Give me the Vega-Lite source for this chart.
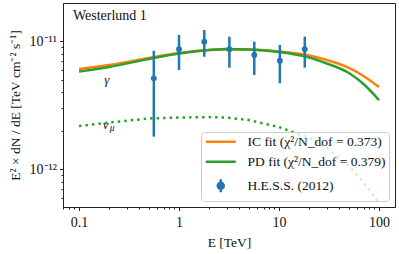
{
  "$schema": "https://vega.github.io/schema/vega-lite/v6.json",
  "width": 332,
  "height": 204,
  "autosize": {"type": "none"},
  "padding": {"left": 63, "top": 3, "right": 4, "bottom": 47},
  "config": {
    "font": "Liberation Serif",
    "view": {"stroke": "#222222", "strokeWidth": 1},
    "axis": {"grid": false, "domainColor": "#222222", "tickColor": "#222222", "labelColor": "#111111", "titleColor": "#111111", "labelFont": "Liberation Serif", "titleFont": "Liberation Serif", "labelFontSize": 14, "titleFontSize": 13.5, "titleFontWeight": "normal"},
    "legend": {"orient": "bottom-right", "offset": 6, "fillColor": "rgba(255,255,255,0.8)", "strokeColor": "#cccccc", "cornerRadius": 3, "padding": 3, "labelFont": "Liberation Serif", "labelFontSize": 13.5, "labelColor": "#111111", "symbolSize": 100, "symbolStrokeWidth": 2.5, "labelOffset": 30, "rowPadding": 5}
  },
  "datasets": {
    "curves": [
      {"E": 0.1, "F": 6.09e-12, "series": "IC fit (χ²/N_dof = 0.373)"},
      {"E": 0.2, "F": 6.54e-12, "series": "IC fit (χ²/N_dof = 0.373)"},
      {"E": 0.5, "F": 7.43e-12, "series": "IC fit (χ²/N_dof = 0.373)"},
      {"E": 1, "F": 8.13e-12, "series": "IC fit (χ²/N_dof = 0.373)"},
      {"E": 2, "F": 8.58e-12, "series": "IC fit (χ²/N_dof = 0.373)"},
      {"E": 3, "F": 8.66e-12, "series": "IC fit (χ²/N_dof = 0.373)"},
      {"E": 5, "F": 8.66e-12, "series": "IC fit (χ²/N_dof = 0.373)"},
      {"E": 10, "F": 8.35e-12, "series": "IC fit (χ²/N_dof = 0.373)"},
      {"E": 20, "F": 7.77e-12, "series": "IC fit (χ²/N_dof = 0.373)"},
      {"E": 30, "F": 7.16e-12, "series": "IC fit (χ²/N_dof = 0.373)"},
      {"E": 50, "F": 6.21e-12, "series": "IC fit (χ²/N_dof = 0.373)"},
      {"E": 70, "F": 5.37e-12, "series": "IC fit (χ²/N_dof = 0.373)"},
      {"E": 100, "F": 4.40e-12, "series": "IC fit (χ²/N_dof = 0.373)"},
      {"E": 0.1, "F": 5.82e-12, "series": "PD fit (χ²/N_dof = 0.379)"},
      {"E": 0.2, "F": 6.32e-12, "series": "PD fit (χ²/N_dof = 0.379)"},
      {"E": 0.5, "F": 7.29e-12, "series": "PD fit (χ²/N_dof = 0.379)"},
      {"E": 1, "F": 8.05e-12, "series": "PD fit (χ²/N_dof = 0.379)"},
      {"E": 2, "F": 8.58e-12, "series": "PD fit (χ²/N_dof = 0.379)"},
      {"E": 3, "F": 8.74e-12, "series": "PD fit (χ²/N_dof = 0.379)"},
      {"E": 5, "F": 8.66e-12, "series": "PD fit (χ²/N_dof = 0.379)"},
      {"E": 10, "F": 8.28e-12, "series": "PD fit (χ²/N_dof = 0.379)"},
      {"E": 20, "F": 7.50e-12, "series": "PD fit (χ²/N_dof = 0.379)"},
      {"E": 30, "F": 6.73e-12, "series": "PD fit (χ²/N_dof = 0.379)"},
      {"E": 50, "F": 5.67e-12, "series": "PD fit (χ²/N_dof = 0.379)"},
      {"E": 70, "F": 4.65e-12, "series": "PD fit (χ²/N_dof = 0.379)"},
      {"E": 100, "F": 3.48e-12, "series": "PD fit (χ²/N_dof = 0.379)"}
    ],
    "nu": [
      {"E": 0.1, "F": 2.18e-12},
      {"E": 0.2, "F": 2.32e-12},
      {"E": 0.5, "F": 2.50e-12},
      {"E": 1, "F": 2.54e-12},
      {"E": 2, "F": 2.56e-12},
      {"E": 3, "F": 2.54e-12},
      {"E": 5, "F": 2.43e-12},
      {"E": 10, "F": 2.14e-12},
      {"E": 20, "F": 1.76e-12},
      {"E": 30, "F": 1.47e-12},
      {"E": 50, "F": 1.06e-12},
      {"E": 70, "F": 7.96e-13},
      {"E": 100, "F": 5.45e-13}
    ],
    "hess": [
      {"E": 0.56, "F": 5.15e-12, "lo": 1.80e-12, "hi": 8.47e-12, "series": "H.E.S.S. (2012)"},
      {"E": 1.0, "F": 8.69e-12, "lo": 5.98e-12, "hi": 1.125e-11, "series": "H.E.S.S. (2012)"},
      {"E": 1.79, "F": 9.96e-12, "lo": 7.60e-12, "hi": 1.23e-11, "series": "H.E.S.S. (2012)"},
      {"E": 3.19, "F": 8.69e-12, "lo": 6.24e-12, "hi": 1.09e-11, "series": "H.E.S.S. (2012)"},
      {"E": 5.66, "F": 7.84e-12, "lo": 5.47e-12, "hi": 9.96e-12, "series": "H.E.S.S. (2012)"},
      {"E": 10.2, "F": 7.08e-12, "lo": 4.71e-12, "hi": 9.39e-12, "series": "H.E.S.S. (2012)"},
      {"E": 18.1, "F": 8.69e-12, "lo": 6.24e-12, "hi": 1.09e-11, "series": "H.E.S.S. (2012)"}
    ],
    "title": [{"E": 0.087, "F": 1.58e-11, "text": "Westerlund 1"}],
    "greek": [
      {"E": 0.19, "F": 5.0e-12, "text": "γ"},
      {"E": 0.185, "F": 2.22e-12, "text": "ν"}
    ],
    "sub": [{"E": 0.215, "F": 2.22e-12, "text": "μ"}]
  },
  "resolve": {"axis": {"x": "independent", "y": "independent"}},
  "layer": [
    {
      "data": {"name": "nu"},
      "mark": {"type": "line", "color": "#2ca02c", "strokeWidth": 2.5, "strokeDash": [2.5, 4], "clip": true},
      "encoding": {
        "x": {"field": "E", "type": "quantitative", "scale": {"type": "log", "domain": [0.0692, 144.5], "nice": false},
          "axis": {"orient": "bottom", "values": [0.07, 0.08, 0.09, 0.2, 0.3, 0.4, 0.5, 0.6, 0.7, 0.8, 0.9, 2, 3, 4, 5, 6, 7, 8, 9, 20, 30, 40, 50, 60, 70, 80, 90], "labels": false, "tickSize": 2, "domain": false, "title": null}},
        "y": {"field": "F", "type": "quantitative", "scale": {"type": "log", "domain": [5.07e-13, 2.0e-11], "nice": false},
          "axis": {"orient": "left", "values": [6e-13, 7e-13, 8e-13, 9e-13, 2e-12, 3e-12, 4e-12, 5e-12, 6e-12, 7e-12, 8e-12, 9e-12], "labels": false, "tickSize": 2, "domain": false, "title": null}}
      }
    },
    {
      "data": {"name": "curves"},
      "mark": {"type": "line", "strokeWidth": 2.5, "interpolate": "monotone", "clip": true},
      "encoding": {
        "x": {"field": "E", "type": "quantitative", "scale": {"type": "log", "domain": [0.0692, 144.5], "nice": false},
          "axis": {"orient": "bottom", "values": [0.1, 1, 10, 100], "format": "~g", "tickSize": 3.5, "labelPadding": 5, "title": "E [TeV]", "titlePadding": 6}},
        "y": {"field": "F", "type": "quantitative", "scale": {"type": "log", "domain": [5.07e-13, 2.0e-11], "nice": false},
          "axis": {"orient": "left", "values": [1e-12, 1e-11], "labelExpr": "datum.value > 5e-12 ? '10⁻¹¹' : '10⁻¹²'", "tickSize": 3.5, "labelPadding": 3, "title": "E² × dN / dE [TeV cm⁻² s⁻¹]", "titlePadding": 7}},
        "color": {"field": "series", "type": "nominal",
          "scale": {"domain": ["IC fit (χ²/N_dof = 0.373)", "PD fit (χ²/N_dof = 0.379)", "H.E.S.S. (2012)"], "range": ["#ff7f0e", "#2ca02c", "#1f77b4"]},
          "legend": {"title": null, "encode": {"symbols": {"update": {
            "shape": {"signal": "datum.value == 'H.E.S.S. (2012)' ? 'M2,-1.3V1.3M1.4,0A0.6,0.6 0 1,0 2.6,0A0.6,0.6 0 1,0 1.4,0' : 'M-1,0H5'"},
            "stroke": {"scale": "color", "field": "value"}, "fill": {"scale": "color", "field": "value"}, "strokeWidth": {"value": 2.5}, "opacity": {"value": 1}}}}}}
      }
    },
    {
      "data": {"name": "hess"},
      "mark": {"type": "rule", "strokeWidth": 2.5},
      "encoding": {
        "x": {"field": "E", "type": "quantitative", "scale": {"type": "log", "domain": [0.0692, 144.5], "nice": false}, "axis": null},
        "y": {"field": "lo", "type": "quantitative", "scale": {"type": "log", "domain": [5.07e-13, 2.0e-11], "nice": false}, "axis": null},
        "y2": {"field": "hi"},
        "color": {"field": "series", "type": "nominal"}
      }
    },
    {
      "data": {"name": "hess"},
      "mark": {"type": "circle", "size": 34, "opacity": 1},
      "encoding": {
        "x": {"field": "E", "type": "quantitative", "scale": {"type": "log", "domain": [0.0692, 144.5], "nice": false}, "axis": null},
        "y": {"field": "F", "type": "quantitative", "scale": {"type": "log", "domain": [5.07e-13, 2.0e-11], "nice": false}, "axis": null},
        "color": {"field": "series", "type": "nominal"}
      }
    },
    {
      "data": {"name": "title"},
      "mark": {"type": "text", "align": "left", "baseline": "middle", "fontSize": 14, "color": "#111111"},
      "encoding": {
        "x": {"field": "E", "type": "quantitative", "scale": {"type": "log", "domain": [0.0692, 144.5], "nice": false}, "axis": null},
        "y": {"field": "F", "type": "quantitative", "scale": {"type": "log", "domain": [5.07e-13, 2.0e-11], "nice": false}, "axis": null},
        "text": {"field": "text"}
      }
    },
    {
      "data": {"name": "greek"},
      "mark": {"type": "text", "align": "center", "baseline": "middle", "fontSize": 13, "fontStyle": "italic", "color": "#111111"},
      "encoding": {
        "x": {"field": "E", "type": "quantitative", "scale": {"type": "log", "domain": [0.0692, 144.5], "nice": false}, "axis": null},
        "y": {"field": "F", "type": "quantitative", "scale": {"type": "log", "domain": [5.07e-13, 2.0e-11], "nice": false}, "axis": null},
        "text": {"field": "text"}
      }
    },
    {
      "data": {"name": "sub"},
      "mark": {"type": "text", "align": "center", "baseline": "middle", "fontSize": 9.5, "fontStyle": "italic", "dy": 3, "color": "#111111"},
      "encoding": {
        "x": {"field": "E", "type": "quantitative", "scale": {"type": "log", "domain": [0.0692, 144.5], "nice": false}, "axis": null},
        "y": {"field": "F", "type": "quantitative", "scale": {"type": "log", "domain": [5.07e-13, 2.0e-11], "nice": false}, "axis": null},
        "text": {"field": "text"}
      }
    }
  ]
}
